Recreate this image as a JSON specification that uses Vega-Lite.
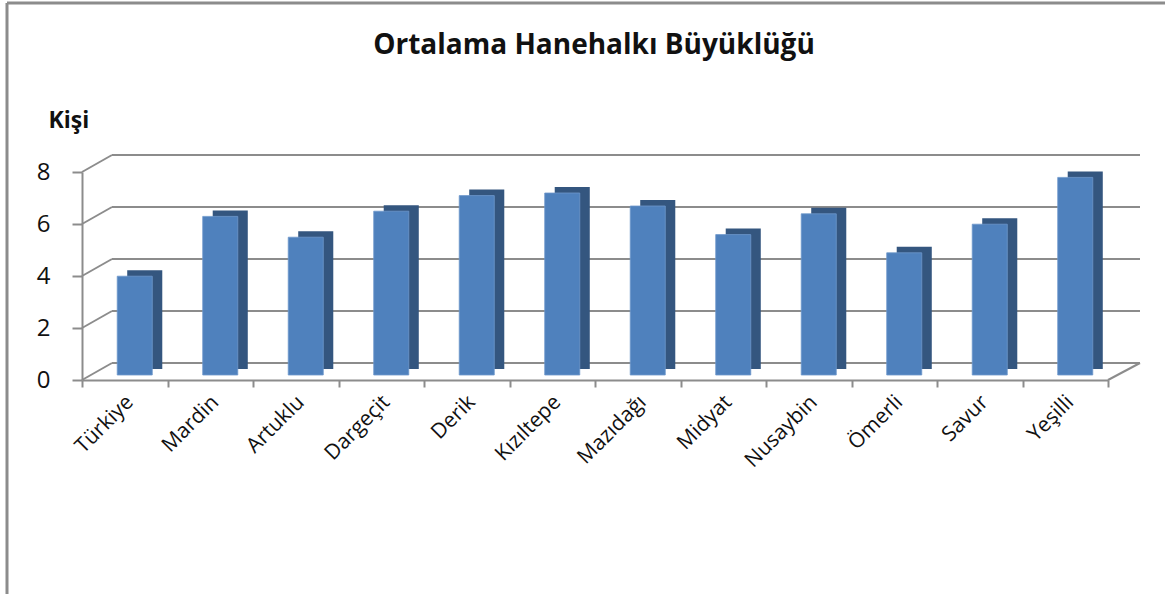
{
  "$schema": "https://vega.github.io/schema/vega-lite/v6.json",
  "width": 1158,
  "height": 591,
  "autosize": {"type": "none"},
  "padding": {"left": 7, "top": 3, "right": 0, "bottom": 0},
  "background": "white",
  "config": {
    "view": {"stroke": "#8c8c8c", "strokeWidth": 3, "strokeDash": [1158, 1749, 591, 0]},
    "font": "Open Sans"
  },
  "title": {
    "text": "Ortalama Hanehalkı Büyüklüğü",
    "font": "Open Sans",
    "fontSize": 28,
    "fontWeight": "bold",
    "color": "#111111",
    "anchor": "middle",
    "frame": "group",
    "baseline": "alphabetic",
    "offset": -79,
    "dx": 8
  },
  "layer": [
    {
      "data": {"values": [{"value": 0}, {"value": 2}, {"value": 4}, {"value": 6}, {"value": 8}]},
      "mark": {"type": "rule", "color": "#8c8c8c", "strokeWidth": 2, "yOffset": -17},
      "encoding": {
        "x": {"value": 105},
        "x2": {"value": 1133},
        "y": {
          "field": "value",
          "type": "quantitative",
          "scale": {"domain": [0, 8], "range": [377, 169], "nice": false, "zero": true},
          "axis": {
            "orient": "left",
            "offset": -75,
            "values": [0, 2, 4, 6, 8],
            "format": "d",
            "grid": false,
            "domainColor": "#8c8c8c",
            "domainWidth": 2,
            "tickColor": "#8c8c8c",
            "tickWidth": 2,
            "tickSize": 10,
            "labelPadding": 22,
            "labelFontSize": 24,
            "labelFont": "Open Sans",
            "labelColor": "#111111",
            "title": "Kişi",
            "titleAngle": 0,
            "titleAlign": "left",
            "titleBaseline": "alphabetic",
            "titleX": -34,
            "titleY": 124,
            "titleFontSize": 23,
            "titleFontWeight": "bold",
            "titleFont": "Open Sans",
            "titleColor": "#111111"
          }
        }
      }
    },
    {
      "data": {"values": [{"value": 0}, {"value": 2}, {"value": 4}, {"value": 6}, {"value": 8}]},
      "mark": {"type": "rule", "color": "#8c8c8c", "strokeWidth": 2, "y2Offset": -17},
      "encoding": {
        "x": {"value": 75},
        "x2": {"value": 105},
        "y": {"field": "value", "type": "quantitative", "scale": {"domain": [0, 8], "range": [377, 169], "nice": false}},
        "y2": {"field": "value"}
      }
    },
    {
      "data": {"values": [{"value": 0}]},
      "mark": {"type": "rule", "color": "#8c8c8c", "strokeWidth": 2, "y2Offset": -17},
      "encoding": {
        "x": {"value": 1101},
        "x2": {"value": 1133},
        "y": {"field": "value", "type": "quantitative", "scale": {"domain": [0, 8], "range": [377, 169], "nice": false}},
        "y2": {"field": "value"}
      }
    },
    {
      "data": {"name": "bars", "values": [
        {"name": "Türkiye", "value": 3.8},
        {"name": "Mardin", "value": 6.1},
        {"name": "Artuklu", "value": 5.3},
        {"name": "Dargeçit", "value": 6.3},
        {"name": "Derik", "value": 6.9},
        {"name": "Kızıltepe", "value": 7.0},
        {"name": "Mazıdağı", "value": 6.5},
        {"name": "Midyat", "value": 5.4},
        {"name": "Nusaybin", "value": 6.2},
        {"name": "Ömerli", "value": 4.7},
        {"name": "Savur", "value": 5.8},
        {"name": "Yeşilli", "value": 7.6}
      ]},
      "layer": [
        {
          "mark": {"type": "bar", "color": "#34567f", "width": {"band": 0.41}, "xOffset": 20, "yOffset": -11, "y2Offset": -11}
        },
        {
          "mark": {"type": "bar", "color": "#4f81bd", "width": {"band": 0.41}, "xOffset": 10, "yOffset": -5, "y2Offset": -5, "stroke": "#6f98cc", "strokeWidth": 0.8}
        }
      ],
      "encoding": {
        "x": {
          "field": "name",
          "type": "nominal",
          "sort": null,
          "scale": {"range": [75, 1101], "paddingInner": 0, "paddingOuter": 0},
          "axis": {
            "orient": "bottom",
            "offset": -214,
            "tickBand": "extent",
            "labelAngle": -45,
            "labelAlign": "right",
            "labelBaseline": "top",
            "labelFontSize": 21,
            "labelFont": "Open Sans",
            "labelColor": "#111111",
            "labelOffset": -3,
            "labelPadding": 4,
            "tickSize": 7,
            "tickColor": "#8c8c8c",
            "tickWidth": 2,
            "domainColor": "#8c8c8c",
            "domainWidth": 2,
            "grid": false,
            "title": null
          }
        },
        "y": {"field": "value", "type": "quantitative", "scale": {"domain": [0, 8], "range": [377, 169], "nice": false}}
      }
    }
  ]
}
